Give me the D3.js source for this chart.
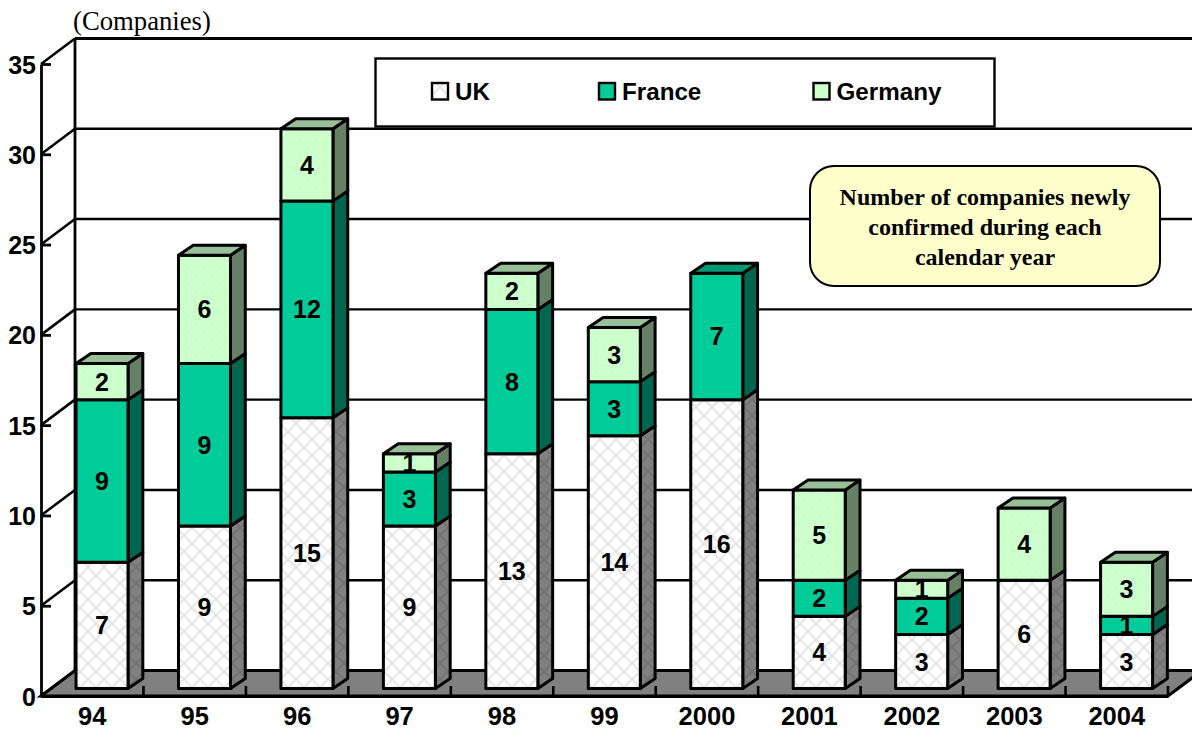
<!DOCTYPE html>
<html><head><meta charset="utf-8">
<script src="https://cdn.jsdelivr.net/npm/d3@7"></script>
<style>html,body{margin:0;padding:0;background:#fff;overflow:hidden}svg{display:block}
text{fill:#000}</style></head><body><svg id="c" width="1192" height="729"></svg>
<script>
const categories=["94","95","96","97","98","99","2000","2001","2002","2003","2004"];
const uk=[7,9,15,9,13,14,16,4,3,6,3];
const france=[9,9,12,3,8,3,7,2,2,0,1];
const germany=[2,6,4,1,2,3,0,5,1,4,3];
const seriesNames=["UK","France","Germany"];
const yTicks=[0,5,10,15,20,25,30,35];
const noteLines=["Number of companies newly","confirmed during each","calendar year"];
const unitLabel="(Companies)";

const svg=d3.select("#c");
const sans='"Liberation Sans",Arial,sans-serif', serif='"Liberation Serif",serif';
const y=d3.scaleLinear().domain([0,35]).range([696,64]);
const x=d3.scaleBand().domain(categories).range([41,1168]);
const depthX=34, depthY=25.5, barOffX=9.8, barOffY=7.4, sideX=14.8, sideY=10, barW=52;

const rows=categories.map((c,i)=>({cat:c,UK:uk[i],France:france[i],Germany:germany[i]}));
const stacked=d3.stack().keys(seriesNames)(rows);

const defs=svg.append("defs");
function hatch(id,bg,fg){
  const p=defs.append("pattern").attr("id",id).attr("width",16).attr("height",16).attr("patternUnits","userSpaceOnUse");
  p.append("rect").attr("width",16).attr("height",16).attr("fill",bg);
  p.append("path").attr("d","M0 0Q8 6 16 16M16 0Q8 6 0 16").attr("stroke",fg).attr("stroke-width",1.6).attr("fill","none");
}
hatch("ukF","#fff","#e2e2e2");
hatch("ukS","#808080","#717171");
function dots(id,bg,fg){
  const p=defs.append("pattern").attr("id",id).attr("width",16).attr("height",16).attr("patternUnits","userSpaceOnUse");
  p.append("rect").attr("width",16).attr("height",16).attr("fill",bg);
  p.append("rect").attr("x",4).attr("y",4).attr("width",1).attr("height",1).attr("fill",fg);
  p.append("rect").attr("x",12).attr("y",12).attr("width",1).attr("height",1).attr("fill",fg);
}
dots("deF","#ccffcc","#b4e6b4");
const fills={
  UK:{front:"url(#ukF)",side:"url(#ukS)",top:"#cccccc"},
  France:{front:"#00cc99",side:"#006650",top:"#009973"},
  Germany:{front:"url(#deF)",side:"#668066",top:"#99bf99"}
};

// floor
svg.append("path").datum([[41,696],[41+depthX,696-depthY],[1168+depthX,696-depthY],[1168,696]])
  .attr("d",d=>"M"+d.join("L")+"Z").attr("fill","#808080").attr("stroke","#000").attr("stroke-width",3);

// back wall and side wall lines
const grid=svg.append("g").attr("stroke","#000").attr("fill","none");
yTicks.forEach(t=>{
  const yy=y(t);
  if(t>0) grid.append("line").attr("x1",41+depthX).attr("x2",1192).attr("y1",yy-depthY).attr("y2",yy-depthY).attr("stroke-width",t===35?3:2.4);
  grid.append("line").attr("x1",41).attr("x2",41+depthX).attr("y1",yy).attr("y2",yy-depthY).attr("stroke-width",2.6);
});
grid.append("line").attr("x1",41+depthX).attr("x2",41+depthX).attr("y1",y(35)-depthY).attr("y2",y(0)-depthY).attr("stroke-width",2.8);

// bars
const barsG=svg.append("g");
rows.forEach((r,i)=>{
  const g=barsG.append("g");
  const x0=x(r.cat)+x.bandwidth()/2-barW/2+barOffX;
  const segs=stacked.map(s=>({key:s.key,a:s[i][0],b:s[i][1],v:s[i].data[s.key]})).filter(d=>d.v>0);
  segs.forEach((d,j)=>{
    const yb=y(d.a)-barOffY, yt=y(d.b)-barOffY;
    const f=fills[d.key];
    const s=g.append("g").attr("stroke","#000").attr("stroke-width",3).attr("stroke-linejoin","round");
    s.append("path").attr("fill",f.side)
      .attr("d",`M${x0+barW} ${yb}L${x0+barW+sideX} ${yb-sideY}L${x0+barW+sideX} ${yt-sideY}L${x0+barW} ${yt}Z`);
    s.append("rect").attr("x",x0).attr("y",yt).attr("width",barW).attr("height",yb-yt).attr("fill",f.front);
    if(j===segs.length-1){
      s.append("path").attr("fill",f.top)
       .attr("d",`M${x0} ${yt}L${x0+sideX} ${yt-sideY}L${x0+barW+sideX} ${yt-sideY}L${x0+barW} ${yt}Z`);
    }
    g.append("text").attr("x",x0+barW/2).attr("y",(yb+yt)/2+9).attr("text-anchor","middle")
      .attr("font-family",sans).attr("font-weight","bold").attr("font-size",25).text(d.v);
  });
});

// axes
const yAxis=d3.axisLeft(y).tickValues(yTicks).tickSizeInner(-10).tickSizeOuter(0).tickPadding(5);
const ya=svg.append("g").attr("transform","translate(41,0)").call(yAxis);
ya.selectAll("path,line").attr("stroke","#000").attr("stroke-width",2.8);
ya.selectAll("text").attr("font-family",sans).attr("font-weight","bold").attr("font-size",25).attr("dy","0.36em");

const xAxis=d3.axisBottom(x).tickSizeInner(0).tickSizeOuter(0).tickPadding(11);
const xa=svg.append("g").attr("transform","translate(0,696)").call(xAxis);
xa.select("path").attr("stroke","#000").attr("stroke-width",3);
xa.selectAll("text").attr("font-family",sans).attr("font-weight","bold").attr("font-size",25.5);
const bounds=categories.map(c=>x(c)+x.bandwidth());
svg.append("g").selectAll("line").data(bounds).join("line")
  .attr("x1",d=>d).attr("x2",d=>d).attr("y1",686).attr("y2",696).attr("stroke","#000").attr("stroke-width",2.6);

svg.append("text").attr("x",73).attr("y",30).attr("font-family",serif).attr("font-size",26.7).text(unitLabel);

// legend
svg.append("rect").attr("x",375.5).attr("y",58.5).attr("width",619).attr("height",68).attr("fill","#fff").attr("stroke","#000").attr("stroke-width",2.4);
const legendX=d3.scaleOrdinal().domain(seriesNames).range([432,599,813.5]);
const lg=svg.append("g").selectAll("g").data(seriesNames).join("g").attr("transform",d=>`translate(${legendX(d)},0)`);
lg.append("rect").attr("y",83).attr("width",16).attr("height",16.5).attr("fill",d=>fills[d].front).attr("stroke","#000").attr("stroke-width",2.4);
lg.append("text").attr("x",23).attr("y",100).attr("font-family",sans).attr("font-weight","bold").attr("font-size",24.2).text(d=>d);

// note
svg.append("rect").attr("x",810).attr("y",166).attr("width",350).attr("height",120).attr("rx",24).attr("fill","#ffffcc").attr("stroke","#000").attr("stroke-width",2);
svg.append("g").selectAll("text").data(noteLines).join("text")
  .attr("x",985).attr("y",(d,i)=>205+i*30).attr("text-anchor","middle")
  .attr("font-family",serif).attr("font-weight","bold").attr("font-size",24).text(d=>d);
</script></body></html>
